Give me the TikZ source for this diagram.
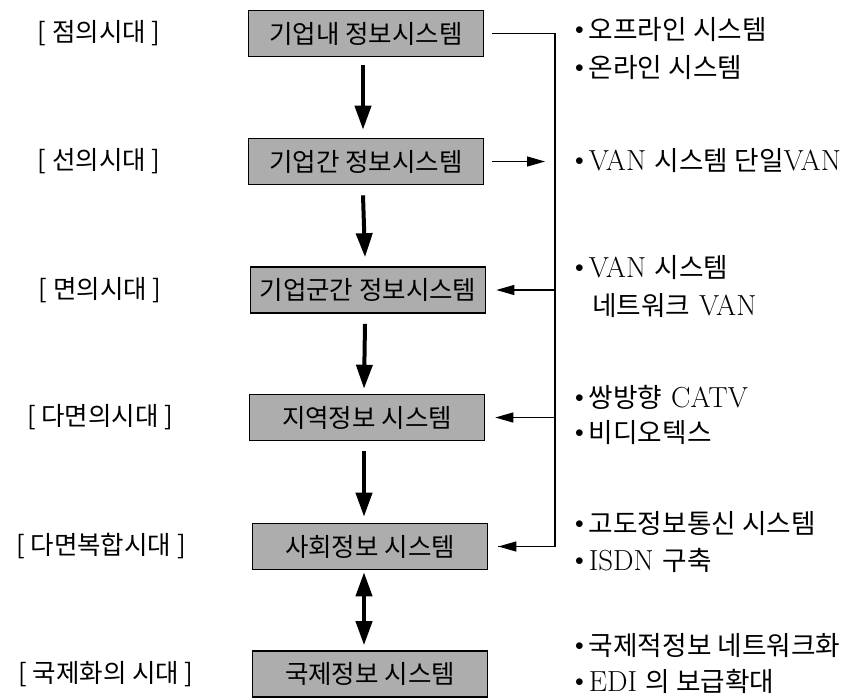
\documentclass[tikz,border=0pt]{standalone}
\usepackage{fontspec}
\newfontfamily\cjk{Noto Sans CJK KR}
\newfontfamily\cjks[Scale=0.92]{Noto Sans CJK KR}
\usetikzlibrary{arrows.meta}
\newcommand\bul{\raisebox{5pt}{\fontsize{17}{17}\selectfont$\bullet$}\hspace{5pt}}
\begin{document}
\begin{tikzpicture}[x=1pt,y=-1pt,
  sysbox/.style={draw=black, line width=1.6pt, fill=black!32, minimum width=235pt, minimum height=46pt, inner sep=0pt, font=\cjk\fontsize{25.5}{28}\selectfont},
  era/.style={font=\cjk\fontsize{25.5}{28}\selectfont, inner sep=0pt},
  note/.style={anchor=west, font=\fontsize{29}{32}\selectfont, inner sep=0pt},
  bigarrow/.style={line width=4pt, -{Triangle[width=16pt,length=24pt]}},
  dblarrow/.style={line width=4pt, {Triangle[width=16pt,length=24pt]}-{Triangle[width=16pt,length=24pt]}},
  thinline/.style={line width=1.2pt},
  thinarrow/.style={line width=1.2pt, -{Triangle[width=10pt,length=18pt]}}
]
\useasboundingbox (0,0) rectangle (856,697);
% system boxes
\node[sysbox] (b1) at (366,33.5) {기업내 정보시스템};
\node[sysbox] (b2) at (366,161.5) {기업간 정보시스템};
\node[sysbox] (b3) at (368,290) {기업군간 정보시스템};
\node[sysbox] (b4) at (367,417.5) {지역정보 시스템};
\node[sysbox] (b5) at (370,546.5) {사회정보 시스템};
\node[sysbox] (b6) at (370,674) {국제정보 시스템};
% era labels
\node[era] (e1) at (99,33.5) {[ 점의시대 ]};
\node[era] (e2) at (99,161.5) {[ 선의시대 ]};
\node[era] (e3) at (100,290) {[ 면의시대 ]};
\node[era] (e4) at (100,417.5) {[ 다면의시대 ]};
\node[era] (e5) at (101,546.5) {[ 다면복합시대 ]};
\node[era] (e6) at (106,674) {[ 국제화의 시대 ]};
% vertical arrows
\draw[bigarrow] ([xshift=-3pt,yshift=-8pt]b1.south) -- ([xshift=-3pt,yshift=8pt]b2.north);
\draw[bigarrow] ([xshift=-3pt,yshift=-10pt]b2.south) -- ([xshift=-3pt,yshift=9pt]b3.north);
\draw[bigarrow] ([xshift=-3pt,yshift=-10pt]b3.south) -- ([xshift=-3pt,yshift=5pt]b4.north);
\draw[bigarrow] ([xshift=-3pt,yshift=-10pt]b4.south) -- ([xshift=-6pt,yshift=6pt]b5.north);
\draw[dblarrow] ([xshift=-6pt,yshift=-2pt]b5.south) -- ([xshift=-6pt,yshift=5pt]b6.north);
% bracket line
\coordinate (t1) at (555,33.5);
\coordinate (t5) at (555,546.5);
\coordinate (t2) at (545,161.5);
\draw[thinline] ([xshift=8pt]b1.east) -- (t1) -- (t5) -- ([xshift=10pt]b5.east |- t5);
\draw[thinarrow] ([xshift=8pt]b2.east) -- (t2);
\draw[thinarrow] (555,290) -- ([xshift=10pt]b3.east);
\draw[thinarrow] (555,417.5) -- ([xshift=10pt]b4.east);
\draw[thinarrow] (t5) -- ([xshift=10pt]b5.east);
% notes
\node[note] (n1) at (575,30) {\bul{\cjks 오프라인 시스템}};
\node[note] (n2) at (575,68) {\bul{\cjks 온라인 시스템}};
\node[note] (n3) at (575,161) {\bul VAN {\cjks 시스템 단일}VAN};
\node[note] (n4) at (575,268) {\bul VAN {\cjks 시스템}};
\node[note] (n5) at (592,305) {{\cjks 네트워크} VAN};
\node[note] (n6) at (575,397) {\bul{\cjks 쌍방향} CATV};
\node[note] (n7) at (575,433) {\bul{\cjks 비디오텍스}};
\node[note] (n8) at (575,524) {\bul{\cjks 고도정보통신 시스템}};
\node[note] (n9) at (575,560) {\bul ISDN {\cjks 구축}};
\node[note] (n10) at (575,645) {\bul{\cjks 국제적정보 네트워크화}};
\node[note] (n11) at (575,681) {\bul EDI {\cjks 의 보급확대}};
\end{tikzpicture}
\end{document}
